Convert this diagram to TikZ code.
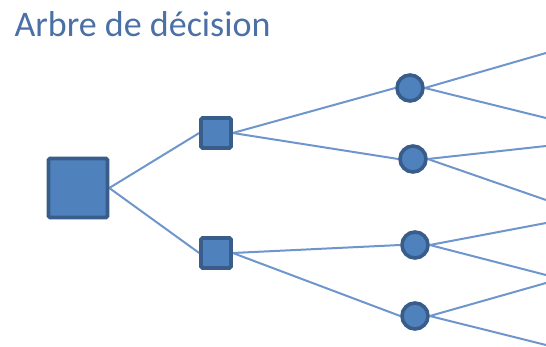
\documentclass[tikz,border=0pt]{standalone}
\usepackage{fontspec}
\setmainfont{Carlito}
\usetikzlibrary{backgrounds}
\definecolor{boxfill}{RGB}{79,129,189}
\definecolor{boxdraw}{RGB}{56,93,138}
\definecolor{linkblue}{RGB}{110,150,205}
\definecolor{titleblue}{RGB}{75,112,165}

\begin{document}
\begin{tikzpicture}[x=1pt,y=-1pt,
  decision/.style={rectangle,draw=boxdraw,fill=boxfill,line width=3.6pt,rounded corners=1.5pt,inner sep=0pt},
  chance/.style={circle,draw=boxdraw,fill=boxfill,line width=3.6pt,minimum size=26pt,inner sep=0pt},
  link/.style={draw=linkblue,line width=2pt}]

\useasboundingbox (0,0) rectangle (546,347);

\node at (11,37) [anchor=base west,text=titleblue,font=\fontsize{36}{42}\selectfont]
{Arbre de décision};

\node (root) at (78,188) [decision,minimum size=59pt] {};
\node (dA) at (216,133) [decision,minimum size=30pt] {};
\node (dB) at (216,253) [decision,minimum size=30pt] {};

\node (cA) at (410,88) [chance] {};
\node (cB) at (413,159) [chance] {};
\node (cC) at (415,245) [chance] {};
\node (cD) at (415,316) [chance] {};

\coordinate (eA1) at (546,53);
\coordinate (eA2) at (546,118);
\coordinate (eB1) at (546,146);
\coordinate (eB2) at (546,200);
\coordinate (eC1) at (546,223);
\coordinate (eC2) at (546,275);
\coordinate (eD1) at (546,283);
\coordinate (eD2) at (546,345);

\begin{scope}[on background layer]
\draw[link] (root.east) -- (dA.west);
\draw[link] (root.east) -- (dB.west);
\draw[link] (dA.east) -- (cA.west);
\draw[link] (dA.east) -- (cB.west);
\draw[link] (dB.east) -- (cC.west);
\draw[link] (dB.east) -- (cD.west);
\draw[link] (cA.east) -- (eA1);
\draw[link] (cA.east) -- (eA2);
\draw[link] (cB.east) -- (eB1);
\draw[link] (cB.east) -- (eB2);
\draw[link] (cC.east) -- (eC1);
\draw[link] (cC.east) -- (eC2);
\draw[link] (cD.east) -- (eD1);
\draw[link] (cD.east) -- (eD2);
\end{scope}

\end{tikzpicture}
\end{document}
